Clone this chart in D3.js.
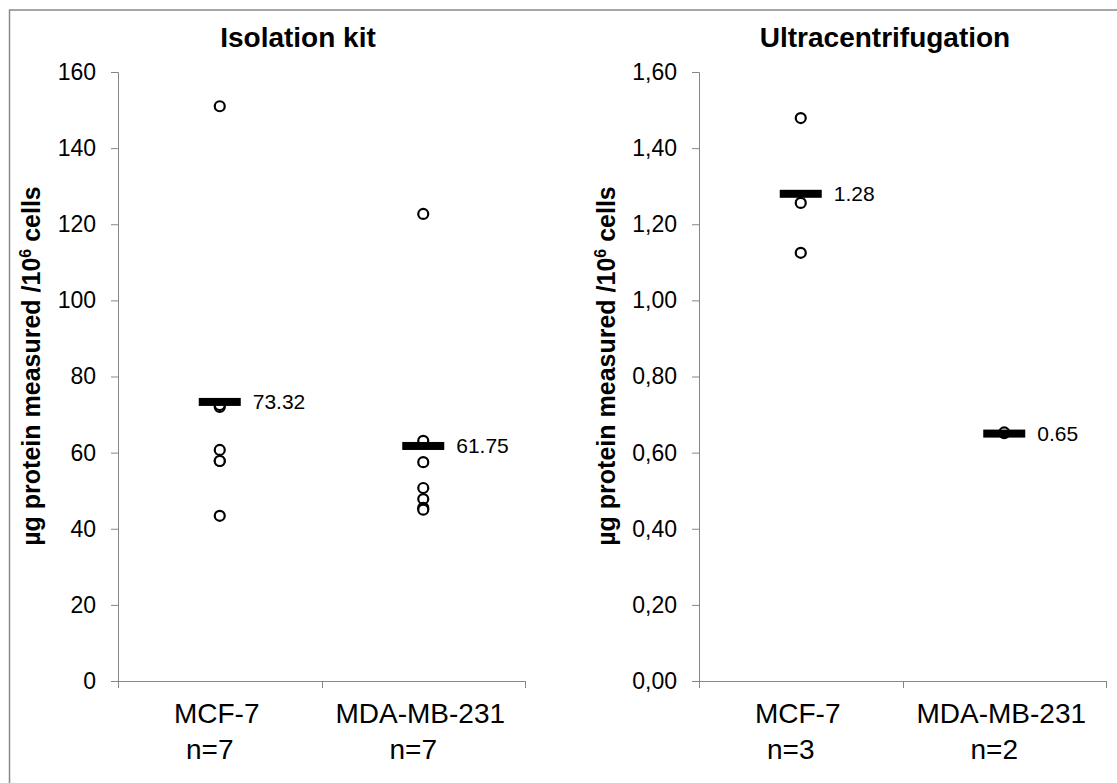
<!DOCTYPE html>
<html>
<head lang="en">
    <meta charset="UTF-8">
    <title></title>
    <style>
        body { margin: 0; background: #fff; }
        text { font-family: "Liberation Sans", Arial, sans-serif; }
    </style>
</head>
<body>
<svg width="1117" height="783"></svg>
<script src="https://cdn.jsdelivr.net/npm/d3@7"></script>
<script>
    // values
    var categories = ["MCF-7", "MDA-MB-231"];
    var kitCounts = ["n=7", "n=7"];
    var ultraCounts = ["n=3", "n=2"];

    var kitMCF7 = [151.0, 72.0, 72.5, 60.7, 57.8, 57.8, 43.4];
    var kitMDA = [122.7, 63.1, 57.5, 50.7, 47.8, 45.5, 45.0];
    var kitMeans = [73.32, 61.75];

    var ultraMCF7 = [1.479, 1.256, 1.125];
    var ultraMDA = [0.651, 0.653];
    var ultraMeans = [1.28, 0.65];

    var kitTicks = [0, 20, 40, 60, 80, 100, 120, 140, 160];
    var ultraTicks = [0, 0.2, 0.4, 0.6, 0.8, 1.0, 1.2, 1.4, 1.6];

    var svg = d3.select("svg");
    var AXIS = "#868686";

    // outer frame
    svg.append("rect")
            .attr("x", 9.5).attr("y", 10)
            .attr("width", 1200).attr("height", 1000)
            .attr("fill", "none")
            .attr("stroke", "#8a8a8a")
            .attr("stroke-width", 1.5);

    function panel(opts) {
        var g = svg.append("g");
        var x = d3.scaleBand().domain(categories).range([opts.left, opts.right]).padding(0);
        var y = d3.scaleLinear().domain([0, opts.max]).range([681, 72]);

        // y axis
        var yAxis = d3.axisLeft(y).tickValues(opts.ticks).tickSize(7).tickPadding(15)
                .tickFormat(opts.fmt);
        var ya = g.append("g")
                .attr("transform", "translate(" + opts.left + ",0)")
                .call(yAxis);
        ya.select(".domain").attr("stroke", AXIS);
        ya.selectAll(".tick line").attr("stroke", AXIS);
        ya.selectAll(".tick text")
                .attr("font-size", 23)
                .attr("fill", "#000")
                .style("font-family", "Liberation Sans, Arial, sans-serif");

        // x axis (ticks at the category edges)
        g.append("line")
                .attr("x1", opts.left).attr("x2", opts.right)
                .attr("y1", y(0) + 0.5).attr("y2", y(0) + 0.5)
                .attr("stroke", AXIS);
        var edges = categories.map(function (c) { return x(c); }).concat([opts.right]);
        g.selectAll(".xtick").data(edges).enter().append("line")
                .attr("x1", function (d) { return Math.round(d) + 0.5; })
                .attr("x2", function (d) { return Math.round(d) + 0.5; })
                .attr("y1", y(0)).attr("y2", y(0) + 7)
                .attr("stroke", AXIS);

        var cx = function (c) { return x(c) + x.bandwidth() / 2; };

        g.selectAll(".cat").data(categories).enter().append("text")
                .attr("x", function (d) { return cx(d) - 3; })
                .attr("y", 723)
                .attr("text-anchor", "middle")
                .attr("font-size", 28)
                .text(function (d) { return d; });
        g.selectAll(".cnt").data(opts.counts).enter().append("text")
                .attr("x", function (d, i) { return cx(categories[i]) - 10; })
                .attr("y", 759)
                .attr("text-anchor", "middle")
                .attr("font-size", 28)
                .text(function (d) { return d; });

        // title
        g.append("text")
                .attr("x", opts.titleX)
                .attr("y", 47)
                .attr("text-anchor", "middle")
                .attr("font-size", 28)
                .attr("font-weight", "bold")
                .text(opts.title);

        // y axis title
        var yt = g.append("text")
                .attr("transform", "translate(" + opts.ytitleX + "," + 366 + ") rotate(-90)")
                .attr("text-anchor", "middle")
                .attr("font-size", 25)
                .attr("font-weight", "bold");
        yt.append("tspan").text("\u00b5g protein measured /10");
        yt.append("tspan").attr("dy", -9).attr("font-size", 16).text("6");
        yt.append("tspan").attr("dy", 9).text(" cells");

        // points
        opts.series.forEach(function (vals, i) {
            g.selectAll(".pt" + i).data(vals).enter().append("circle")
                    .attr("cx", cx(categories[i]))
                    .attr("cy", function (d) { return y(d); })
                    .attr("r", 5)
                    .attr("fill", "#fff")
                    .attr("stroke", "#000")
                    .attr("stroke-width", 2.2);
        });

        // mean bars + labels
        g.selectAll(".mean").data(opts.means).enter().append("rect")
                .attr("x", function (d, i) { return cx(categories[i]) - 21; })
                .attr("y", function (d) { return y(d) - 4; })
                .attr("width", 42)
                .attr("height", 8)
                .attr("fill", "#000");
        g.selectAll(".mlab").data(opts.means).enter().append("text")
                .attr("x", function (d, i) { return cx(categories[i]) + 33; })
                .attr("y", function (d) { return y(d) + 7.5; })
                .attr("font-size", 21)
                .text(function (d) { return d.toFixed(2); });
    }

    panel({
        left: 118, right: 525, max: 160, ticks: kitTicks,
        fmt: d3.format("d"),
        counts: kitCounts,
        title: "Isolation kit", titleX: 298, ytitleX: 40,
        series: [kitMCF7, kitMDA], means: kitMeans
    });

    panel({
        left: 699, right: 1106, max: 1.6, ticks: ultraTicks,
        fmt: function (d) { return d3.format(".2f")(d).replace(".", ","); },
        counts: ultraCounts,
        title: "Ultracentrifugation", titleX: 885, ytitleX: 615,
        series: [ultraMCF7, ultraMDA], means: ultraMeans
    });
</script>
</body>
</html>
